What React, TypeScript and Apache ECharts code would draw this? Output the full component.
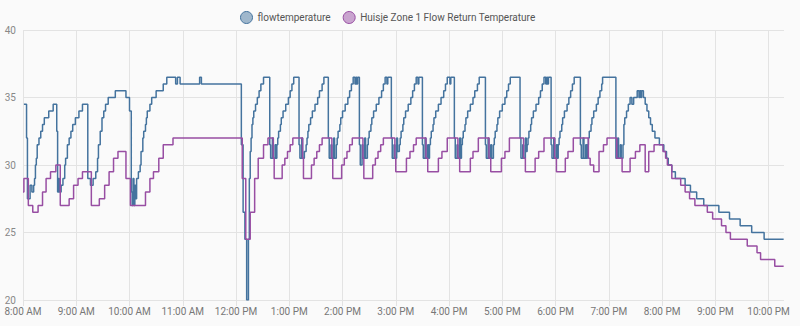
import React, { useEffect, useRef } from "react";
import * as echarts from "echarts";

// flowtemperature (time of day, value)
const flowTimes = [
  "8:01","8:04","8:05","8:08","8:10","8:12","8:13","8:14","8:15","8:16","8:18","8:20","8:22","8:24","8:29","8:34",
  "8:38","8:39","8:40","8:41","8:43","8:45","8:47","8:48","8:50","8:52","8:54","8:56","8:59","9:03","9:07",
  "9:13","9:16","9:19","9:22","9:24","9:25","9:27","9:29","9:31","9:33","9:36","9:44","9:56",
  "10:00","10:02","10:03","10:04","10:05","10:06","10:07","10:08","10:10","10:12","10:13","10:15","10:16","10:18","10:19","10:20","10:23","10:25","10:30","10:38","10:42",
  "10:52","10:54","10:57","11:19","11:21",
  "12:06","12:08","12:10","12:12","12:14","12:15","12:16","12:17","12:18","12:19","12:20","12:22","12:24","12:26","12:28","12:31",
  "12:38","12:39","12:41","12:42","12:44","12:45","12:46","12:47","12:48","12:50","12:51","12:53","12:56","12:59","13:01","13:03","13:05",
  "13:11","13:12","13:14","13:15","13:17","13:19","13:20","13:21","13:22","13:24","13:26","13:29","13:32","13:34","13:37","13:39",
  "13:44","13:45","13:47","13:48","13:50","13:51","13:53","13:54","13:55","13:57","13:58","14:00","14:03","14:06","14:08","14:10","14:12","14:14","14:15","14:16","14:17",
  "14:19","14:20","14:22","14:23","14:25","14:26","14:28","14:29","14:30","14:32","14:33","14:35","14:38","14:41","14:44","14:46","14:48","14:50","14:51",
  "14:55","14:56","14:58","14:59","15:01","15:02","15:04","15:05","15:06","15:08","15:09","15:11","15:14","15:17","15:19","15:21","15:23","15:25","15:26",
  "15:30","15:31","15:33","15:34","15:36","15:37","15:38","15:39","15:40","15:42","15:43","15:45","15:48","15:51","15:54","15:56","15:58","16:01","16:02",
  "16:06","16:07","16:09","16:10","16:12","16:13","16:14","16:15","16:16","16:18","16:19","16:21","16:24","16:27","16:29","16:32","16:34",
  "16:41","16:42","16:44","16:45","16:47","16:48","16:50","16:51","16:52","16:54","16:55","16:57","17:00","17:03","17:05","17:07","17:09",
  "17:20","17:21","17:23","17:24","17:26","17:27","17:28","17:29","17:30","17:32","17:33","17:35","17:38","17:41","17:43","17:45","17:47","17:49","17:50","17:51","17:52",
  "17:55","17:56","17:58","17:59","18:01","18:02","18:03","18:04","18:05","18:07","18:08","18:10","18:13","18:15","18:17","18:19","18:21",
  "18:28","18:29","18:31","18:32","18:34","18:35","18:36","18:37","18:38","18:40","18:41","18:43","18:46","18:48","18:50","18:52","18:53",
  "19:08","19:10","19:11","19:13","19:14","19:16","19:17","19:18","19:20","19:22","19:24","19:26","19:28","19:32","19:34","19:35","19:36","19:37","19:39",
  "19:41","19:43","19:45","19:47","19:49","19:52","19:57","20:02","20:05","20:07","20:11","20:15","20:26","20:32","20:39","20:47",
  "21:04","21:16","21:28","21:41","21:55","22:17"
];
const flowValues = [
  34.5,32,27.5,28.5,28,28.5,29,30,30.5,31.5,32,32.5,33,33.5,34,34.5,
  32.5,28,29,28,28.5,29,30,30.5,31.5,32,32.5,33,33.5,34,34.5,
  29,28.5,29,29.5,30.5,31.5,32.5,33.5,34,34.5,35,35.5,35,
  34,28,27,29,27,28.5,27.5,29,29.5,30,31,32,32.5,33,33.5,34,34.5,35,35.5,36,36.5,
  36,36.5,36,36.5,36,
  31.5,26.5,24.5,20,24.5,29,31,32,33,33.5,34,34.5,35,35.5,36,36.5,
  31.5,30.5,32,30.5,31.5,30.5,31.5,32,32.5,33,33.5,34,34.5,35,35.5,36,36.5,
  31.5,30.5,32,30.5,31,31.5,32,32.5,33,33.5,34,34.5,35,35.5,36,36.5,
  32,30.5,31.5,30.5,32,30.5,31.5,32,32.5,33,33.5,34,34.5,35,35.5,36,36.5,36,36.5,36,36.5,
  31.5,30,31.5,30.5,32,30.5,31.5,32,32.5,33,33.5,34,34.5,35,35.5,36,36.5,36,36.5,
  32,30.5,31.5,30.5,32,31,31.5,32,32.5,33,33.5,34,34.5,35,35.5,36,36.5,36,36.5,
  31.5,30.5,32,30.5,31.5,30.5,31.5,32,32.5,33,33.5,34,34.5,35,35.5,36,36.5,36,36.5,
  32,30.5,31.5,30.5,32,30.5,31.5,32,32.5,33,33.5,34,34.5,35,35.5,36,36.5,
  31.5,30.5,32,30.5,31.5,30.5,31.5,32,32.5,33,33.5,34,34.5,35,35.5,36,36.5,
  32,30.5,31.5,30.5,32,31,31.5,32,32.5,33,33.5,34,34.5,35,35.5,36,36.5,36,36.5,36,36.5,
  31.5,30.5,32,30.5,31.5,30.5,31.5,32,32.5,33,33.5,34,34.5,35,35.5,36,36.5,
  31.5,30.5,32,30.5,31.5,30.5,31.5,32,32.5,33,33.5,34,34.5,35,35.5,36,36.5,
  30.5,32,30.5,31.5,30.5,31.5,33,33.5,34,34.5,35,34.5,35,35.5,35,35.5,35,35.5,35,
  34.5,34,33.5,33,32.5,32,31.5,31,30.5,30,29.5,29,28.5,28,27.5,27,
  26.5,26,25.5,25,24.5,24.5
];

// Huisje Zone 1 Flow Return Temperature
const returnTimes = [
  "8:00","8:01","8:06","8:11","8:17","8:22","8:26","8:31","8:37",
  "8:42","8:52","8:57","9:02","9:07",
  "9:17","9:26","9:32","9:37","9:42","9:47","9:56",
  "10:01","10:18","10:23","10:27","10:33","10:38","10:49",
  "12:07","12:11","12:16","12:21","12:25","12:31","12:36",
  "12:42","12:43","12:52","12:55","12:58","13:01","13:04",
  "13:15","13:16","13:25","13:28","13:31","13:34","13:37",
  "13:48","13:49","13:59","14:02","14:05","14:08","14:11",
  "14:23","14:24","14:34","14:37","14:40","14:43","14:46",
  "14:59","15:00","15:12","15:16","15:20","15:23",
  "15:34","15:36","15:48","15:52","15:58",
  "16:10","16:12","16:24","16:27","16:33",
  "16:45","16:47","16:59","17:03","17:08",
  "17:24","17:26","17:37","17:41","17:47",
  "17:59","18:01","18:11","18:14","18:20",
  "18:37","18:39","18:43","18:49","18:54","18:58",
  "19:09","19:15","19:24","19:30","19:35","19:41","19:45","19:51",
  "20:01","20:04","20:06","20:11","20:21","20:26","20:31","20:37","20:51","20:57",
  "21:07","21:12","21:17","21:36","21:47","21:51","22:07","22:17"
];
const returnValues = [
  28,29,27,26.5,27,28,29,29.5,30,
  27,27.5,28.5,29,29.5,
  27,27.5,28.5,29.5,30.5,31,29,
  27,28,29,29.5,30.5,31.5,32,
  29,24.5,26.5,29,30.5,31.5,32,
  30.5,29,30,30.5,31,31.5,32,
  30.5,29,30,30.5,31,31.5,32,
  30.5,29,30,30.5,31,31.5,32,
  30.5,29,30,30.5,31,31.5,32,
  30.5,29.5,30.5,31,31.5,32,
  30.5,29.5,30.5,31,32,
  30.5,29.5,30.5,31,32,
  30.5,29.5,30.5,31,32,
  30.5,29.5,30.5,31,32,
  30.5,29.5,30.5,31,32,
  30.5,30,29.5,31,31.5,32,
  30.5,29.5,30.5,31,31.5,29.5,31,31.5,
  31,30.5,30,29,28.5,28,27.5,27,26.5,26,
  25.5,25,24.5,24,23.5,23,22.5,22.5
];

const seriesNames = ["flowtemperature", "Huisje Zone 1 Flow Return Temperature"];
const hourTicks = [8, 9, 10, 11, 12, 13, 14, 15, 16, 17, 18, 19, 20, 21, 22];
const yTicks = [20, 25, 30, 35, 40];

function toHours(t: string): number {
  const [h, m] = t.split(":").map(Number);
  return h + m / 60;
}

function fmtHour(v: number): string {
  const h = Math.round(v);
  const hh = h % 12 === 0 ? 12 : h % 12;
  return `${hh}:00 ${h < 12 ? "AM" : "PM"}`;
}

export default function App() {
  const ref = useRef<HTMLDivElement>(null);
  useEffect(() => {
    document.body.style.margin = "0";
    if (!ref.current) return;
    const chart = echarts.init(ref.current, undefined, { renderer: "svg" });
    const flowData = flowTimes.map((t, i) => [toHours(t), flowValues[i]]);
    const retData = returnTimes.map((t, i) => [toHours(t), returnValues[i]]);
    const gridColor = "#e3e3e3";
    chart.setOption({
      animation: false,
      backgroundColor: "#fafafa",
      textStyle: { fontFamily: "Roboto" },
      legend: {
        top: 6,
        left: 235,
        icon: "circle",
        itemWidth: 12,
        itemHeight: 12,
        itemGap: 12,
        textStyle: { fontSize: 10, color: "#555", fontFamily: "Roboto" },
        data: [
          { name: seriesNames[0], itemStyle: { color: "rgba(68,115,158,0.5)", borderColor: "#44739e", borderWidth: 1 } },
          { name: seriesNames[1], itemStyle: { color: "rgba(152,78,163,0.5)", borderColor: "#984ea3", borderWidth: 1 } },
        ],
      },
      grid: { left: 23, right: 16, top: 30, bottom: 26, containLabel: false, outerBoundsMode: "none" },
      xAxis: {
        type: "value",
        min: 8,
        max: 22.29,
        interval: 1,
        axisLine: { show: false },
        axisTick: { show: true, length: 6, lineStyle: { color: gridColor }, customValues: hourTicks },
        axisLabel: {
          customValues: hourTicks,
          fontSize: 10,
          color: "#777",
          margin: 6,
          fontFamily: "Roboto",
          formatter: (v: number) => (Math.abs(v - Math.round(v)) < 1e-6 ? fmtHour(v) : ""),
        },
        splitLine: { show: true, lineStyle: { color: gridColor, width: 1 } },
      },
      yAxis: {
        type: "value",
        min: yTicks[0],
        max: yTicks[yTicks.length - 1],
        interval: 5,
        axisLine: { show: false },
        axisTick: { show: false },
        axisLabel: { fontSize: 10, color: "#888", margin: 7, fontFamily: "Roboto" },
        splitLine: { show: true, lineStyle: { color: gridColor, width: 1 } },
      },
      series: [
        {
          name: seriesNames[0],
          type: "line",
          step: "end",
          showSymbol: false,
          data: flowData,
          color: "#44739e",
          lineStyle: { width: 1.5, color: "#44739e" },
        },
        {
          name: seriesNames[1],
          type: "line",
          step: "end",
          showSymbol: false,
          data: retData,
          color: "#984ea3",
          lineStyle: { width: 1.5, color: "#984ea3" },
        },
      ],
    });
    return () => chart.dispose();
  }, []);
  return (
    <div
      ref={ref}
      style={{ position: "fixed", left: 0, top: 0, width: 800, height: 326 }}
    />
  );
}
